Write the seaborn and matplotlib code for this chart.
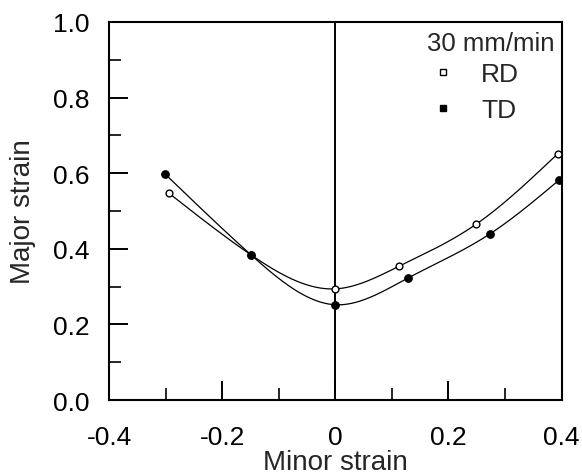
"""
Forming limit curves (major vs minor strain) at 30 mm/min, RD and TD
"""

import numpy as np
import pandas as pd
import matplotlib
matplotlib.use('Agg')
import matplotlib.pyplot as plt
from matplotlib.lines import Line2D
import seaborn as sns

# Data
rd_minor = [-0.294, -0.149, 0.000, 0.113, 0.249, 0.393]
rd_major = [0.547, 0.384, 0.294, 0.354, 0.465, 0.651]
td_minor = [-0.301, -0.149, 0.000, 0.129, 0.273, 0.395]
td_major = [0.598, 0.384, 0.252, 0.323, 0.439, 0.581]
x_ticks = [-0.4, -0.2, 0.0, 0.2, 0.4]
x_tick_labels = ['-0.4', '-0.2', '0', '0.2', '0.4']
y_ticks = [0.0, 0.2, 0.4, 0.6, 0.8, 1.0]


def natural_spline(x, y, n=300):
    """Natural cubic spline through the points (no scipy needed)."""
    x = np.asarray(x, float)
    y = np.asarray(y, float)
    h = np.diff(x)
    m = len(x)
    A = np.zeros((m, m))
    b = np.zeros(m)
    A[0, 0] = A[-1, -1] = 1.0
    for i in range(1, m - 1):
        A[i, i - 1] = h[i - 1]
        A[i, i] = 2 * (h[i - 1] + h[i])
        A[i, i + 1] = h[i]
        b[i] = 6 * ((y[i + 1] - y[i]) / h[i] - (y[i] - y[i - 1]) / h[i - 1])
    M = np.linalg.solve(A, b)
    xs = np.linspace(x[0], x[-1], n)
    idx = np.clip(np.searchsorted(x, xs) - 1, 0, m - 2)
    x0, x1, hi = x[idx], x[idx + 1], h[idx]
    ys = (M[idx] * (x1 - xs) ** 3 / (6 * hi) + M[idx + 1] * (xs - x0) ** 3 / (6 * hi)
          + (y[idx] / hi - M[idx] * hi / 6) * (x1 - xs)
          + (y[idx + 1] / hi - M[idx + 1] * hi / 6) * (xs - x0))
    return xs, ys


points = pd.concat([
    pd.DataFrame({'minor': rd_minor, 'major': rd_major, 'dir': 'RD'}),
    pd.DataFrame({'minor': td_minor, 'major': td_major, 'dir': 'TD'}),
])

sns.set_theme(style='ticks')
plt.rcParams['font.family'] = ['Liberation Sans', 'DejaVu Sans']

fig = plt.figure(figsize=(5.82, 4.77), dpi=100)
ax = fig.add_axes([0.1873, 0.1593, 0.7775, 0.7925])

# Fitted curves
for xs_, ys_ in [(rd_minor, rd_major), (td_minor, td_major)]:
    cx, cy = natural_spline(xs_, ys_)
    sns.lineplot(x=cx, y=cy, ax=ax, color='black', linewidth=0.9, sort=False)

# Vertical line at zero minor strain
ax.axvline(0, color='black', linewidth=1.4, zorder=1)

# Data points
rd = points[points['dir'] == 'RD']
td = points[points['dir'] == 'TD']
sns.scatterplot(data=rd, x='minor', y='major', ax=ax, marker='o', s=24,
                facecolor='white', edgecolor='black', linewidth=1.0, zorder=3)
sns.scatterplot(data=td, x='minor', y='major', ax=ax, marker='o', s=30,
                color='black', edgecolor='black', linewidth=0.8, zorder=3)

ax.set_xlim(-0.4, 0.4)
ax.set_ylim(0.0, 1.0)
ax.set_xticks(x_ticks)
ax.set_xticklabels(x_tick_labels)
ax.set_yticks(y_ticks)
ax.set_yticklabels([f'{v:.1f}' for v in y_ticks])
ax.set_xticks(np.arange(-0.3, 0.4, 0.2), minor=True)
ax.set_yticks(np.arange(0.1, 1.0, 0.2), minor=True)
ax.tick_params(axis='both', which='major', direction='in', length=14, width=1.4,
               labelsize=19, colors='black')
ax.tick_params(axis='both', which='minor', direction='in', length=8.5, width=1.4)
ax.tick_params(axis='x', which='major', pad=18)
ax.tick_params(axis='y', which='major', pad=14)
for sp in ax.spines.values():
    sp.set_visible(True)
    sp.set_linewidth(1.5)
    sp.set_color('black')

ax.set_xlabel('Minor strain', fontsize=20, labelpad=0)
ax.set_ylabel('Major strain', fontsize=20, labelpad=12)

handles = [
    Line2D([], [], linestyle='none', marker='s', markersize=3.8, markerfacecolor='white',
           markeredgecolor='black', markeredgewidth=1.0, label='RD'),
    Line2D([], [], linestyle='none', marker='s', markersize=3.8, markerfacecolor='black',
           markeredgecolor='black', label='TD'),
]
ax.legend(handles=handles, loc='upper left', bbox_to_anchor=(0.709, 0.893),
          frameon=False, fontsize=19, handlelength=1.0, handletextpad=0.95,
          labelspacing=0.45, borderpad=0, borderaxespad=0)
ax.text(0.9856, 0.926, '30 mm/min', transform=ax.transAxes, ha='right',
        va='baseline', fontsize=18.5)

plt.savefig('out.png', dpi=100)
